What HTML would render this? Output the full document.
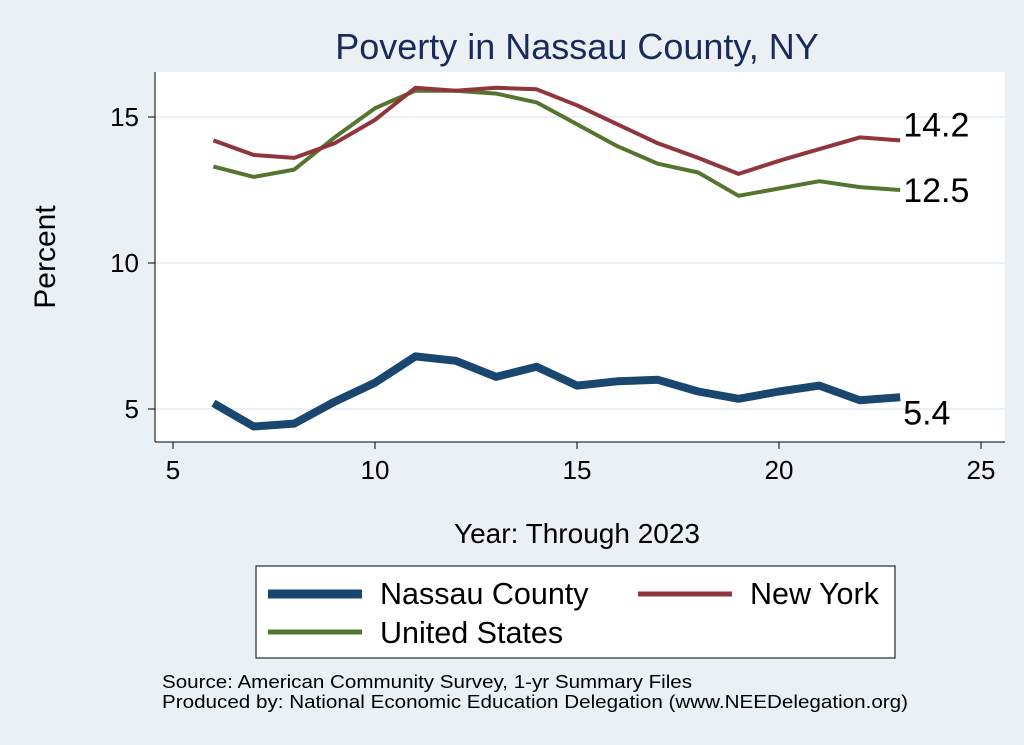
<!DOCTYPE html>
<html><head><meta charset="utf-8">
<style>
html,body{margin:0;padding:0;background:#eaf0f4;}
svg{display:block;font-family:"Liberation Sans",sans-serif;}
</style></head>
<body>
<svg id="chart" width="1024" height="745">
  <rect x="0" y="0" width="1024" height="745" fill="#eaf0f4"/>
  <rect x="155" y="72" width="850" height="370" fill="#ffffff"/>
  <text x="577" y="59" font-size="36" fill="#1a2a5a" text-anchor="middle">Poverty in Nassau County, NY</text>
  <g id="grid"></g>
  <line x1="155" y1="72" x2="155" y2="442" stroke="#000" stroke-width="1"/>
  <line x1="155" y1="442" x2="1005" y2="442" stroke="#000" stroke-width="1"/>
  <g id="ticks"></g>
  <g id="series"></g>
  <text x="55" y="257" font-size="30" text-anchor="middle" transform="rotate(-90 55 257)">Percent</text>
  <text x="577" y="543" font-size="28" text-anchor="middle">Year: Through 2023</text>
  <g>
    <rect x="256" y="566" width="639" height="92" fill="#fff" stroke="#000" stroke-width="1"/>
    <line x1="268" y1="594" x2="362" y2="594" stroke="#1a476f" stroke-width="9"/>
    <text x="380" y="604" font-size="30.5">Nassau County</text>
    <line x1="638" y1="594" x2="732" y2="594" stroke="#90353b" stroke-width="5"/>
    <text x="750" y="604" font-size="30.5">New York</text>
    <line x1="268" y1="632" x2="362" y2="632" stroke="#55752f" stroke-width="5"/>
    <text x="380" y="643" font-size="30.5">United States</text>
  </g>
  <text x="162" y="688" font-size="18" textLength="530" lengthAdjust="spacingAndGlyphs">Source: American Community Survey, 1-yr Summary Files</text>
  <text x="162" y="708" font-size="18" textLength="746" lengthAdjust="spacingAndGlyphs">Produced by: National Economic Education Delegation (www.NEEDelegation.org)</text>
</svg>
<script>
const years = [6,7,8,9,10,11,12,13,14,15,16,17,18,19,20,21,22,23];
const nassau = [5.2,4.4,4.5,5.25,5.9,6.8,6.65,6.1,6.45,5.8,5.95,6.0,5.6,5.35,5.6,5.8,5.3,5.4];
const newYork = [14.2,13.7,13.6,14.1,14.9,16.0,15.9,16.0,15.95,15.4,14.75,14.1,13.6,13.05,13.5,13.9,14.3,14.2];
const unitedStates = [13.3,12.95,13.2,14.3,15.3,15.9,15.9,15.8,15.5,14.75,14.0,13.4,13.1,12.3,12.55,12.8,12.6,12.5];
const xTicks = [5,10,15,20,25];
const yTicks = [5,10,15];
const endLabels = ["5.4","14.2","12.5"];

const NS="http://www.w3.org/2000/svg";
function xs(v){return 173+(v-5)*40.4;}
function ys(v){return 409-(v-5)*29.2;}
function mk(tag,attrs,parent){const e=document.createElementNS(NS,tag);for(const k in attrs)e.setAttribute(k,attrs[k]);parent.appendChild(e);return e;}
const grid=document.getElementById('grid'),ticks=document.getElementById('ticks'),ser=document.getElementById('series');
yTicks.forEach(t=>{
  const g=mk('line',{x1:155,x2:1005,y1:ys(t),y2:ys(t),stroke:'#eaf0f4','stroke-width':2},grid);
  
  
  const tk=mk('line',{x1:148,x2:155,y1:ys(t),y2:ys(t),stroke:'#000'},ticks);
  
  
  const tx=mk('text',{x:139,y:ys(t)+9,'font-size':26,'text-anchor':'end'},ticks);tx.textContent=t;
  
  
});
xTicks.forEach(t=>{
  const tk=mk('line',{x1:xs(t),x2:xs(t),y1:442,y2:449,stroke:'#000'},ticks);
  
  
  const tx=mk('text',{x:xs(t),y:479,'font-size':26,'text-anchor':'middle'},ticks);tx.textContent=t;
  
  
});
function line(vals,color,w,name){
  const d=vals.map((v,i)=>(i?'L':'M')+xs(years[i]).toFixed(1)+','+ys(v).toFixed(1)).join(' ');
  const p=mk('path',{d:d,fill:'none',stroke:color,'stroke-width':w,'stroke-linejoin':'round'},ser);
  
  
}
line(unitedStates,'#55752f',4,'line-united-states');
line(newYork,'#90353b',4,'line-new-york');
line(nassau,'#1a476f',8,'line-nassau');
const lastX=xs(years[years.length-1]);
const lbl=[[nassau,endLabels[0],27],[newYork,endLabels[1],-4],[unitedStates,endLabels[2],12]];
lbl.forEach(([arr,t,dy],i)=>{
  const tx=mk('text',{x:lastX+3,y:ys(arr[arr.length-1])+dy,'font-size':34},ser);tx.textContent=t;
  
  
});
</script>
</body></html>
